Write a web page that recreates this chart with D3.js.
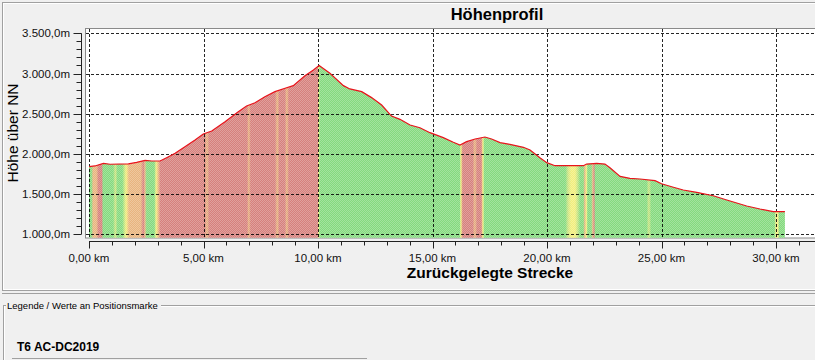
<!DOCTYPE html>
<html><head><meta charset="utf-8">
<script src="https://cdn.jsdelivr.net/npm/d3@7"></script>
<style>
html,body{margin:0;padding:0;background:#f0f0f0;}
svg{display:block;font-family:"Liberation Sans",Arial,sans-serif;}
</style></head><body>
<svg id="c" width="815" height="360"></svg>
<script>
// ---- data ----
const distKm = [0,0.26,0.63,0.92,1.72,2.08,2.45,2.74,3.1,3.39,3.76,4.19,4.63,4.99,5.36,5.94,6.52,6.88,7.25,7.68,8.12,8.56,8.92,9.43,9.8,10.05,10.52,11.11,11.39,11.91,12.34,12.78,13.21,13.58,14.02,14.45,14.89,15.47,15.91,16.2,16.49,16.86,17.29,17.58,17.95,18.38,18.97,19.26,19.69,19.99,20.35,21.59,21.73,22.17,22.53,22.75,23.19,23.62,24.06,24.72,25.0,25.52,25.95,26.54,27.26,27.85,28.72,29.3,29.88,30.39];
const elevM = [1841,1850,1883,1871,1875,1895,1920,1912,1912,1953,2007,2090,2173,2248,2285,2400,2525,2596,2637,2712,2774,2816,2849,2973,3044,3100,3002,2849,2808,2774,2700,2608,2471,2430,2359,2326,2264,2202,2144,2111,2152,2185,2210,2185,2140,2119,2082,2049,1953,1891,1853,1853,1874,1883,1874,1828,1721,1696,1688,1667,1629,1585,1551,1522,1480,1427,1352,1315,1282,1282];
// slope colouring stops along the track (g=green, l=light, y=yellow, o=orange, r=red)
const slopeKm = [0,0.10,0.18,0.32,0.42,0.55,0.62,1.05,1.15,1.25,1.45,1.62,1.75,2.25,2.38,2.44,2.52,2.85,2.93,3.03,3.12,5.05,5.15,5.25,6.90,6.98,7.06,8.12,8.22,8.32,8.55,8.64,8.73,9.98,10.02,10.08,16.18,16.24,16.32,16.75,16.85,16.95,17.13,17.20,17.27,20.80,20.92,21.05,21.22,21.32,21.45,21.58,21.65,21.72,21.78,21.93,22.00,22.05,22.12,24.35,24.45,24.55,29.93,30.0,30.08,30.15,30.39];
const slopeCls = ["g","g","o","o","r","r","g","g","l","g","g","y","o","o","r","o","g","g","y","o","r","r","o","r","r","o","r","r","o","r","r","o","r","r","y","g","g","y","r","r","o","r","r","y","g","g","l","y","y","l","g","g","o","y","g","g","o","r","g","g","l","g","g","y","y","g","g"];
const xTickKm = [0,5,10,15,20,25,30];
const yTickM = [1000,1500,2000,2500,3000,3500];
const titleText = "Höhenprofil";
const xTitle = "Zurückgelegte Strecke";
const yTitle = "Höhe über NN";
const legendTitle = "Legende / Werte an Positionsmarke";
const trackName = "T6 AC-DC2019";

const colors = {g:"#84da7e", l:"#cce480", y:"#f2ee7c", o:"#e8b47e", r:"#d6807c"};

const svg = d3.select("#c");
const loc = d3.formatLocale({decimal:",", thousands:".", grouping:[3], currency:["","€"]});
const fmtY = loc.format(",.1f"), fmtX = loc.format(".2f");

const x = d3.scaleLinear().domain([0,30]).range([89,776]);
const y = d3.scaleLinear().domain([1000,3500]).range([234.3,33.3]);

// panel frame
svg.append("rect").attr("x",2.5).attr("y",2.5).attr("width",840).attr("height",288).attr("fill","#f0f0f0").attr("stroke","#a0a0a0");
svg.append("rect").attr("x",3.5).attr("y",3.5).attr("width",840).attr("height",286).attr("fill","none").attr("stroke","#ffffff");
svg.append("line").attr("x1",2).attr("x2",815).attr("y1",293.5).attr("y2",293.5).attr("stroke","#a0a0a0");

// title
svg.append("text").attr("x",497).attr("y",19.5).attr("text-anchor","middle")
  .attr("font-weight","bold").attr("font-size",16.5).attr("fill","#000").text(titleText);

// plot area
svg.append("rect").attr("x",85.5).attr("y",28.5).attr("width",740).attr("height",209.5).attr("fill","#fff").attr("stroke","#8a8a8a");

// gradient
const defs = svg.append("defs");
const grad = defs.append("linearGradient").attr("id","slope").attr("gradientUnits","userSpaceOnUse")
  .attr("x1",x(0)).attr("x2",x(30.39)).attr("y1",0).attr("y2",0);
const span = 30.39;
slopeKm.forEach((k,i)=>{
  grad.append("stop").attr("offset",(k/span)).attr("stop-color",colors[slopeCls[i]]);
});
const pat = defs.append("pattern").attr("id","dither").attr("width",2).attr("height",2).attr("patternUnits","userSpaceOnUse");
pat.append("rect").attr("x",0).attr("y",0).attr("width",1).attr("height",1).attr("fill","#fff").attr("fill-opacity",0.25);
pat.append("rect").attr("x",1).attr("y",1).attr("width",1).attr("height",1).attr("fill","#fff").attr("fill-opacity",0.25);

const pts = distKm.map((d,i)=>[d,elevM[i]]);
const area = d3.area().x(d=>x(d[0])).y0(237.8).y1(d=>y(d[1]));
svg.append("path").datum(pts).attr("d",area).attr("fill","url(#slope)");
svg.append("path").datum(pts).attr("d",area).attr("fill","url(#dither)");

// grid on top
const g = svg.append("g").attr("stroke","#000").attr("stroke-opacity",0.85).attr("stroke-dasharray","3,2").attr("stroke-width",1);
g.selectAll("line.h").data(yTickM).join("line").attr("class","h")
  .attr("x1",86).attr("x2",815).attr("y1",d=>Math.round(y(d))+0.5).attr("y2",d=>Math.round(y(d))+0.5);
g.selectAll("line.v").data(xTickKm).join("line").attr("class","v")
  .attr("x1",d=>Math.round(x(d))+0.5).attr("x2",d=>Math.round(x(d))+0.5).attr("y1",29).attr("y2",238);

// profile line
svg.append("path").datum(pts).attr("d",d3.line().x(d=>x(d[0])).y(d=>y(d[1])))
  .attr("fill","none").attr("stroke","#e8141c").attr("stroke-width",1.2);

// x axis
const xMinor = d3.range(0,33,1);
const xa = svg.append("g").attr("transform","translate(0,241.5)");
xa.append("line").attr("x1",89).attr("x2",815).attr("stroke","#222");
xa.selectAll("line.t").data(xMinor).join("line").attr("class","t")
  .attr("x1",d=>Math.round(x(d))+0.5).attr("x2",d=>Math.round(x(d))+0.5)
  .attr("y1",0).attr("y2",d=>d%5===0?7:4).attr("stroke","#222");
xa.selectAll("text").data(xTickKm).join("text")
  .attr("x",d=>x(d)).attr("y",20.5).attr("text-anchor","middle").attr("font-size",11.5).attr("fill","#111")
  .text(d=>fmtX(d)+" km");
svg.append("text").attr("x",490).attr("y",278).attr("text-anchor","middle")
  .attr("font-weight","bold").attr("font-size",15.5).attr("fill","#000").text(xTitle);

// y axis
const yMinor = d3.range(1000,3501,100);
const ya = svg.append("g").attr("transform","translate(81.5,0)");
ya.append("line").attr("y1",y(3500)).attr("y2",y(1000)).attr("stroke","#222");
ya.selectAll("line.t").data(yMinor).join("line").attr("class","t")
  .attr("y1",d=>Math.round(y(d))+0.5).attr("y2",d=>Math.round(y(d))+0.5)
  .attr("x1",0).attr("x2",d=>d%500===0?-8:-5).attr("stroke","#222");
ya.selectAll("text").data(yTickM).join("text")
  .attr("x",-11.5).attr("y",d=>y(d)+4).attr("text-anchor","end").attr("font-size",11.5).attr("fill","#111")
  .text(d=>fmtY(d)+"m");
svg.append("text").attr("transform","translate(18,133) rotate(-90)").attr("text-anchor","middle")
  .attr("font-size",15.5).attr("fill","#000").text(yTitle);

// legend group box
svg.append("line").attr("x1",3).attr("x2",6).attr("y1",305.5).attr("y2",305.5).attr("stroke","#a0a0a0");
svg.append("line").attr("x1",161).attr("x2",815).attr("y1",305.5).attr("y2",305.5).attr("stroke","#a0a0a0");
svg.append("line").attr("x1",161).attr("x2",815).attr("y1",306.5).attr("y2",306.5).attr("stroke","#fff");
svg.append("line").attr("x1",3.5).attr("x2",3.5).attr("y1",305).attr("y2",360).attr("stroke","#a0a0a0");
svg.append("line").attr("x1",4.5).attr("x2",4.5).attr("y1",306).attr("y2",360).attr("stroke","#fff");
svg.append("text").attr("x",7).attr("y",309).attr("font-size",9.5).attr("fill","#000").text(legendTitle);
svg.append("text").attr("x",17).attr("y",350.5).attr("font-weight","bold").attr("font-size",12).attr("fill","#000").text(trackName);
svg.append("line").attr("x1",12).attr("x2",367).attr("y1",358.5).attr("y2",358.5).attr("stroke","#a0a0a0");
</script>
</body></html>
